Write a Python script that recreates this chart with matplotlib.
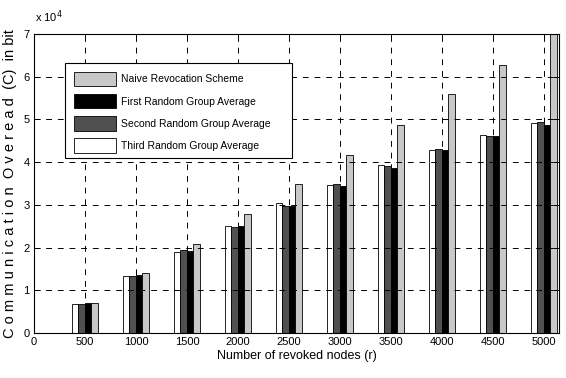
import matplotlib
matplotlib.use("Agg")
import matplotlib.pyplot as plt
import numpy as np
from matplotlib import font_manager
from matplotlib.patches import Rectangle

names = {f.name for f in font_manager.fontManager.ttflist}
FONT = "Liberation Sans Narrow" if "Liberation Sans Narrow" in names else "Liberation Sans"
plt.rcParams['font.family'] = [FONT, 'DejaVu Sans']

revoked = [500, 1000, 1500, 2000, 2500, 3000, 3500, 4000, 4500, 5000]
naive  = [7000, 14050, 20900, 27900, 34900, 41700, 48700, 55900, 62800, 70000]
first  = [7000, 13650, 19300, 25000, 29800, 34500, 38700, 42900, 46100, 48800]
second = [6700, 13350, 19350, 24700, 29800, 35000, 39200, 43100, 46100, 49400]
third  = [6700, 13350, 19000, 25000, 30400, 34700, 39300, 42900, 46400, 49100]

series = [
    ("Third Random Group Average", third, "#ffffff"),
    ("Second Random Group Average", second, "#505050"),
    ("First Random Group Average", first, "#000000"),
    ("Naive Revocation Scheme", naive, "#c8c8c8"),
]

W, H = 566, 378
fig = plt.figure(figsize=(W/100, H/100), dpi=100)
ax_l, ax_t, ax_r, ax_b = 34, 34, 559, 333
ax = fig.add_axes([ax_l/W, 1-ax_b/H, (ax_r-ax_l)/W, (ax_b-ax_t)/H])

x = np.array(revoked, dtype=float)
w = 64
bars = {}
for i, (lab, vals, col) in enumerate(series):
    off = (i - 1.5) * w
    bars[lab] = ax.bar(x + off, vals, width=w, color=col, edgecolor="#000000",
                       linewidth=0.6, label=lab, zorder=2, clip_on=False)

ax.set_xlim(0, 5150)
ax.set_ylim(0, 70000)
ax.set_xticks([0] + revoked)
ax.set_xticklabels([str(v) for v in [0] + revoked], fontsize=8)
ax.set_yticks(np.arange(0, 70001, 10000))
ax.set_yticklabels([str(i) for i in range(8)], fontsize=8)
ax.tick_params(direction="in", length=4, width=0.7, top=True, right=True, pad=3)
ax.grid(True, color="black", linestyle=(0, (6, 6)), linewidth=0.7, zorder=3)
ax.set_axisbelow(False)
for s in ax.spines.values():
    s.set_linewidth(0.8)
    s.set_zorder(5)

ax.set_xlabel("Number of revoked nodes (r)", fontsize=9, labelpad=2)
ax.set_ylabel("C o m m u n i c a t i o n  O v e r e a d  (C)  in bit", fontsize=10.5, labelpad=5)
fig.text(35/W, 1-17/H, r"x 10$^4$", fontsize=8, ha="left", va="center")

# legend frame drawn manually (MATLAB-style wide box)
def px_to_ax(px, py):
    return (px-ax_l)/(ax_r-ax_l), (ax_b-py)/(ax_b-ax_t)
x0, y1 = px_to_ax(65, 63)
x1, y0 = px_to_ax(292, 158)
frame = Rectangle((x0, y0), x1-x0, y1-y0, transform=ax.transAxes,
                  facecolor="white", edgecolor="black", linewidth=0.8, zorder=6)
ax.add_patch(frame)

order = ["Naive Revocation Scheme", "First Random Group Average",
         "Second Random Group Average", "Third Random Group Average"]
lx, ly = px_to_ax(65, 63)
leg = ax.legend([bars[k] for k in order], order, loc="upper left",
                bbox_to_anchor=(lx, ly), fontsize=7.5, frameon=False,
                handlelength=4.0, handleheight=1.75, labelspacing=0.75,
                borderpad=0.85, handletextpad=0.5, borderaxespad=0)
leg.set_zorder(7)

fig.savefig("out.png", dpi=100)
